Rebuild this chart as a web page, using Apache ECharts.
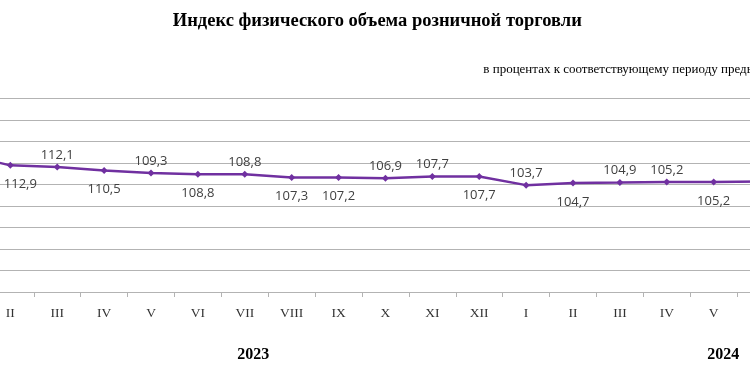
<!DOCTYPE html>
<html>
<head>
<meta charset="utf-8">
<script src="https://cdn.jsdelivr.net/npm/echarts@6/dist/echarts.min.js"></script>
<style>html,body{margin:0;padding:0;background:#fff;overflow:hidden;width:750px;height:375px}
#wrap{position:relative;width:750px;height:375px;overflow:hidden}
#c{position:absolute;left:-60.3px;top:0;width:843.5px;height:375px}</style>
</head>
<body>
<div id="wrap"><div id="c"></div></div>
<script>
var months = ['I','II','III','IV','V','VI','VII','VIII','IX','X','XI','XII','I','II','III','IV','V','VI'];
var values = [118.0,112.9,112.1,110.5,109.3,108.8,108.8,107.3,107.2,106.9,107.7,107.7,103.7,104.7,104.9,105.2,105.2,105.4];
var labelSide = ['top','bottom','top','bottom','top','bottom','top','bottom','bottom','top','top','bottom','top','bottom','top','top','bottom','none'];
var years = ['2023','2024'];
var titleText = 'Индекс физического объема розничной торговли';
var subtitleText = 'в процентах к соответствующему периоду предыдущего года';

var dx = 60.3;
var chart = echarts.init(document.getElementById('c'), null, {renderer:'canvas'});
var seriesData = values.map(function(v,i){
  var side = labelSide[i];
  if (side === 'none') return {value:v, label:{show:false}};
  return {value:v, label:{position:side, distance: side==='top'?2:9, offset: i===1?[10,0]:[0,0]}};
});
chart.setOption({
  animation:false,
  graphic:[
    {type:'text',x:377+dx,y:21,style:{text:titleText,fontFamily:'Liberation Serif',fontWeight:'bold',fontSize:18.5,fill:'#000',align:'center',verticalAlign:'middle'}},
    {type:'text',x:483+dx,y:70,style:{text:subtitleText,fontFamily:'Liberation Serif',fontSize:13,fill:'#000',align:'left',verticalAlign:'middle'}},
    {type:'text',x:253+dx,y:355,style:{text:years[0],fontFamily:'Liberation Serif',fontWeight:'bold',fontSize:16,fill:'#000',align:'center',verticalAlign:'middle'}},
    {type:'text',x:723+dx,y:355,style:{text:years[1],fontFamily:'Liberation Serif',fontWeight:'bold',fontSize:16,fill:'#000',align:'center',verticalAlign:'middle'}}
  ],
  grid:{left:0,right:0,top:98.5,height:193.5,containLabel:false},
  xAxis:{type:'category',data:months,boundaryGap:true,
    axisLine:{lineStyle:{color:'#b3b3b3',width:1}},
    axisTick:{show:true,length:5,lineStyle:{color:'#b3b3b3'}},
    axisLabel:{fontFamily:'Liberation Serif',fontSize:13.5,color:'#333',margin:14}},
  yAxis:[
    {type:'value',min:54,max:144,show:false,splitLine:{show:false}},
    {type:'value',min:0,max:90,interval:10,axisLabel:{show:false},axisLine:{show:false},axisTick:{show:false},
      splitLine:{lineStyle:{color:'#b3b3b3',width:1}}}
  ],
  series:[{type:'line',yAxisIndex:0,data:seriesData,symbol:'diamond',symbolSize:7,
    lineStyle:{color:'#7030a0',width:2.5},itemStyle:{color:'#7030a0'},
    label:{show:true,fontFamily:'Open Sans',fontSize:13,color:'#404040',
      formatter:function(p){return String(p.value.toFixed(1)).replace('.',',');}}
  }]
});
</script>
</body>
</html>
